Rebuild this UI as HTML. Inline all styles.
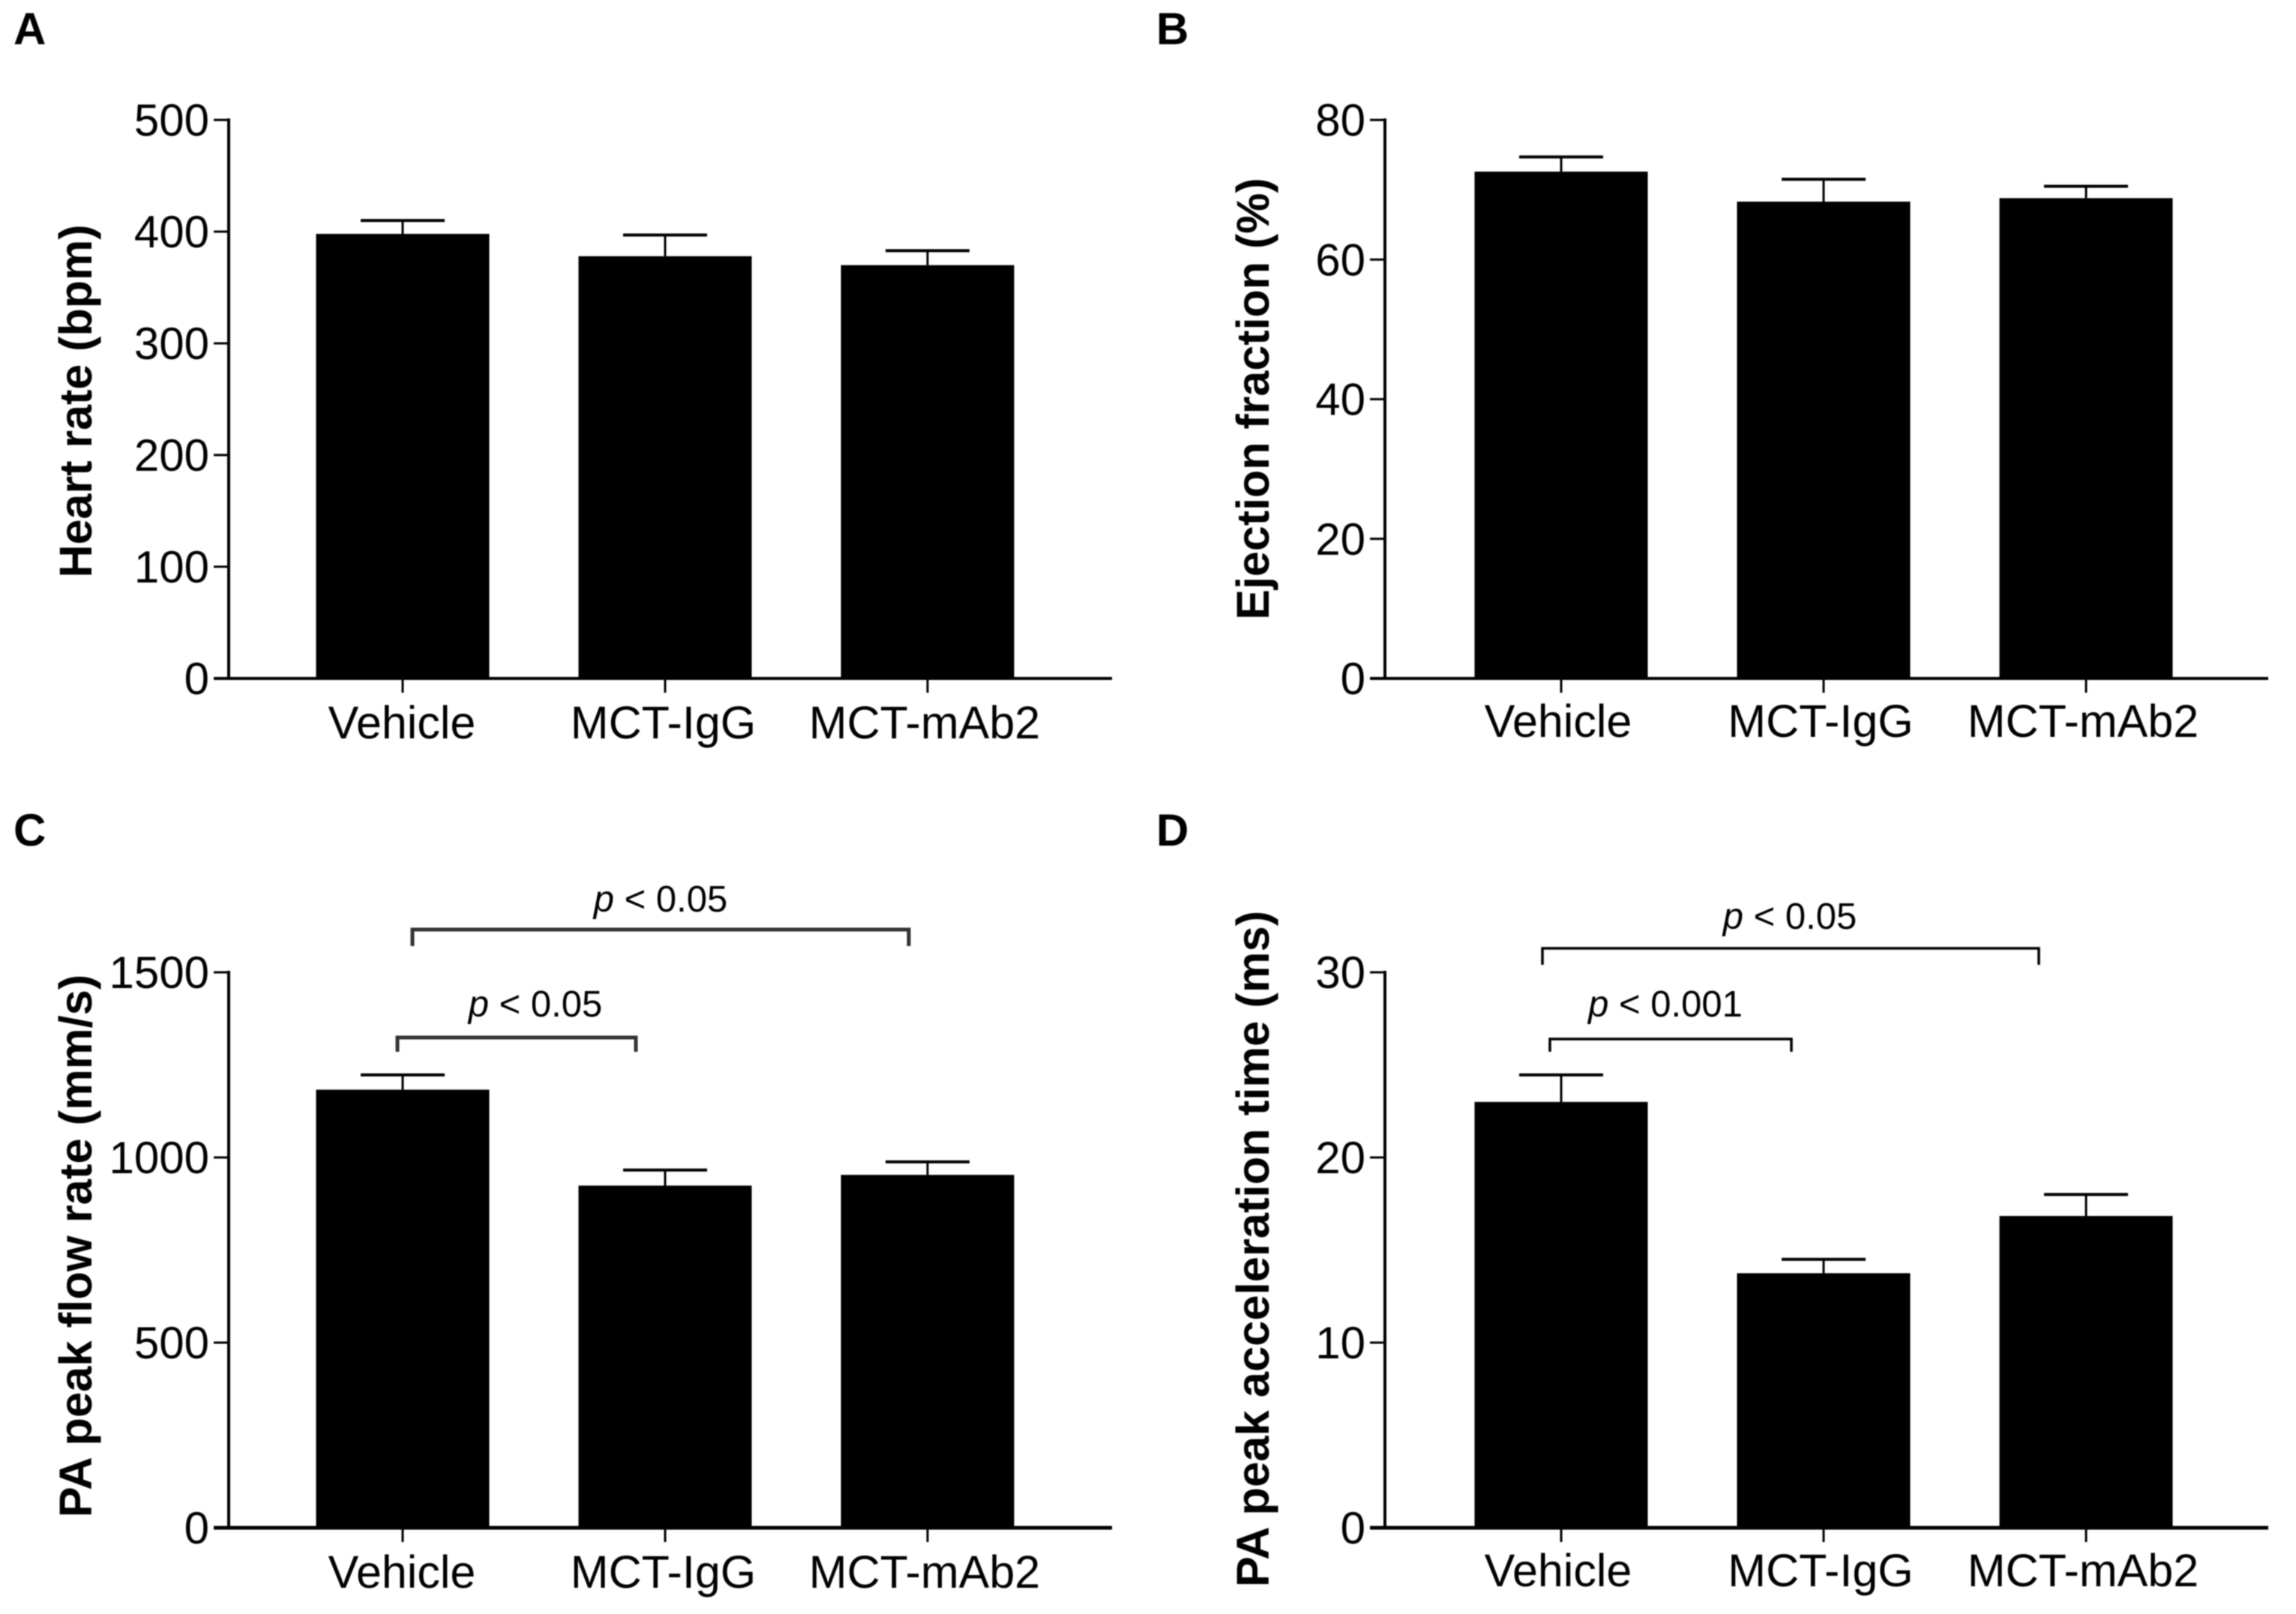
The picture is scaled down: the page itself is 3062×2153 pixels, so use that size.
<!DOCTYPE html>
<html lang="en">
<head>
<meta charset="utf-8">
<title>Cardiac and pulmonary artery measurements</title>
<style>
  html, body { margin: 0; padding: 0; background: #fff; }
  body { width: 3062px; height: 2153px; overflow: hidden; }
  svg { display: block; font-family: "Liberation Sans", Arial, sans-serif; filter: blur(0.7px); }
</style>
</head>
<body>
<svg id="figure" xmlns="http://www.w3.org/2000/svg" width="3062" height="2153" viewBox="0 0 3062 2153"></svg>
<script>
// Shared category labels
const categories = ["Vehicle", "MCT-IgG", "MCT-mAb2"];

// Panel A: heart rate
const heartRateValues = [398, 378, 370];
const heartRateUpper = [410, 397, 383];
const heartRateTicks = [0, 100, 200, 300, 400, 500];

// Panel B: ejection fraction
const ejectionValues = [72.6, 68.3, 68.8];
const ejectionUpper = [74.7, 71.5, 70.5];
const ejectionTicks = [0, 20, 40, 60, 80];

// Panel C: PA peak flow rate
const flowValues = [1183, 924, 953];
const flowUpper = [1223, 966, 988];
const flowTicks = [0, 500, 1000, 1500];

// Panel D: PA peak acceleration time
const accelValues = [23.0, 13.75, 16.84];
const accelUpper = [24.46, 14.5, 18.0];
const accelTicks = [0, 10, 20, 30];

const SVG_NS = "http://www.w3.org/2000/svg";
const root = document.getElementById("figure");

function make(parent, tag, attrs, name) {
  const el = document.createElementNS(SVG_NS, tag);
  for (const key in attrs) el.setAttribute(key, attrs[key]);
  
  
  parent.appendChild(el);
  return el;
}

function line(parent, x1, y1, x2, y2, width, name) {
  return make(parent, "line", { x1: x1, y1: y1, x2: x2, y2: y2, stroke: "#000", "stroke-width": width }, name);
}

function label(parent, x, y, text, size, anchor, name, weight) {
  const el = make(parent, "text", { x: x, y: y, "font-size": size, "text-anchor": anchor, "font-weight": weight || "normal", fill: "#000" }, name);
  el.textContent = text;
  return el;
}

function pLabel(parent, cx, baseline, rest, name) {
  const el = make(parent, "text", { x: cx, y: baseline, "font-size": 49, "text-anchor": "middle", fill: "#000" }, name);
  const italic = document.createElementNS(SVG_NS, "tspan");
  italic.setAttribute("font-style", "italic");
  
  
  italic.textContent = "p";
  el.appendChild(italic);
  el.appendChild(document.createTextNode(" " + rest));
}

function bracket(parent, xLeft, xRight, y, yEnd, width, color, name) {
  make(parent, "path", {
    d: "M" + xLeft + " " + yEnd + "V" + y + "H" + xRight + "V" + yEnd,
    fill: "none", stroke: color, "stroke-width": width
  }, name);
}

function drawPanel(p) {
  const g = make(root, "g", {}, p.id);
  const yScale = function (v) { return p.yZero - (v / p.yMax) * (p.yZero - p.yTop); };
  const xScale = function (i) { return p.firstCenter + i * p.step; };
  const barWidth = 231;
  const capWidth = 112;

  // Panel letter and y axis title
  label(g, p.letterX, p.letterY, p.letter, 60, "start", "panel-letter", "bold");
  const title = label(g, 0, 0, p.title, p.titleSize, "middle", "y-axis-title", "bold");
  title.setAttribute("transform", "translate(" + p.titleX + " " + p.titleY + ") rotate(-90)");

  // Bars and error bars
  categories.forEach(function (cat, i) {
    const cx = xScale(i);
    const top = yScale(p.values[i]);
    const up = yScale(p.upper[i]);
    make(g, "rect", { x: cx - barWidth / 2, y: top, width: barWidth, height: p.yZero - top, fill: "#000" }, "bar-" + cat.toLowerCase());
    line(g, cx, top, cx, up, 3, "error-stem-" + cat.toLowerCase());
    line(g, cx - capWidth / 2, up, cx + capWidth / 2, up, 4, "error-cap-" + cat.toLowerCase());
    line(g, cx, p.yZero, cx, p.yZero + 19, 3, "x-tick-" + cat.toLowerCase());
    label(g, cx + p.labelShift - i * p.labelDrift, p.xLabelY, cat, 61, "middle", "x-tick-label-" + cat.toLowerCase());
  });

  // Axes
  line(g, p.axisX, p.yTop - 2, p.axisX, p.yZero + 2, 4, "y-axis-line");
  line(g, p.axisX - 20, p.yZero, p.axisEnd, p.yZero, p.xAxisWidth, "x-axis-line");
  p.ticks.forEach(function (t) {
    const y = yScale(t);
    line(g, p.axisX - 20, y, p.axisX, y, 3, "y-tick-" + t);
    label(g, p.axisX - 26, y + 21, String(t), 60, "end", "y-tick-label-" + t);
  });

  // Significance brackets
  (p.brackets || []).forEach(function (b, i) {
    bracket(g, b.x1, b.x2, b.y, b.yEnd, p.bracketWidth, p.bracketColor, "significance-bracket-" + (i + 1));
    pLabel(g, b.textX, b.textY, b.text, "significance-label-" + (i + 1));
  });
}

drawPanel({
  id: "panel-a", letter: "A", letterX: 18, letterY: 59,
  title: "Heart rate (bpm)", titleX: 122, titleY: 535, titleSize: 61,
  values: heartRateValues, upper: heartRateUpper, ticks: heartRateTicks, yMax: 500,
  axisX: 305, axisEnd: 1483, yTop: 160, yZero: 905, firstCenter: 537, step: 350,
  xLabelY: 985, xAxisWidth: 4, labelShift: -1, labelDrift: 1.5
});

drawPanel({
  id: "panel-b", letter: "B", letterX: 1542, letterY: 59,
  title: "Ejection fraction (%)", titleX: 1692, titleY: 532, titleSize: 61,
  values: ejectionValues, upper: ejectionUpper, ticks: ejectionTicks, yMax: 80,
  axisX: 1847, axisEnd: 3025, yTop: 160, yZero: 905, firstCenter: 2082, step: 350,
  xLabelY: 983, xAxisWidth: 4, labelShift: -4, labelDrift: 0
});

drawPanel({
  id: "panel-c", letter: "C", letterX: 18, letterY: 1128,
  title: "PA peak flow rate (mm/s)", titleX: 122, titleY: 1662, titleSize: 61.5,
  values: flowValues, upper: flowUpper, ticks: flowTicks, yMax: 1500,
  axisX: 305, axisEnd: 1483, yTop: 1297, yZero: 2038, firstCenter: 537, step: 350,
  xLabelY: 2118, xAxisWidth: 5, labelShift: -1, labelDrift: 1.5,
  bracketWidth: 5, bracketColor: "#333",
  brackets: [
    { x1: 550, x2: 1212, y: 1240, yEnd: 1262, textX: 881, textY: 1216, text: "< 0.05" },
    { x1: 530, x2: 848, y: 1384, yEnd: 1403, textX: 714, textY: 1356, text: "< 0.05" }
  ]
});

drawPanel({
  id: "panel-d", letter: "D", letterX: 1542, letterY: 1128,
  title: "PA peak acceleration time (ms)", titleX: 1692, titleY: 1666, titleSize: 61.5,
  values: accelValues, upper: accelUpper, ticks: accelTicks, yMax: 30,
  axisX: 1847, axisEnd: 3025, yTop: 1297, yZero: 2038, firstCenter: 2082, step: 350,
  xLabelY: 2116, xAxisWidth: 5, labelShift: -4, labelDrift: 0,
  bracketWidth: 3.5, bracketColor: "#000",
  brackets: [
    { x1: 2057, x2: 2719, y: 1265, yEnd: 1287, textX: 2387, textY: 1239, text: "< 0.05" },
    { x1: 2067, x2: 2389, y: 1386, yEnd: 1403, textX: 2221, textY: 1356, text: "< 0.001" }
  ]
});
</script>
</body>
</html>
